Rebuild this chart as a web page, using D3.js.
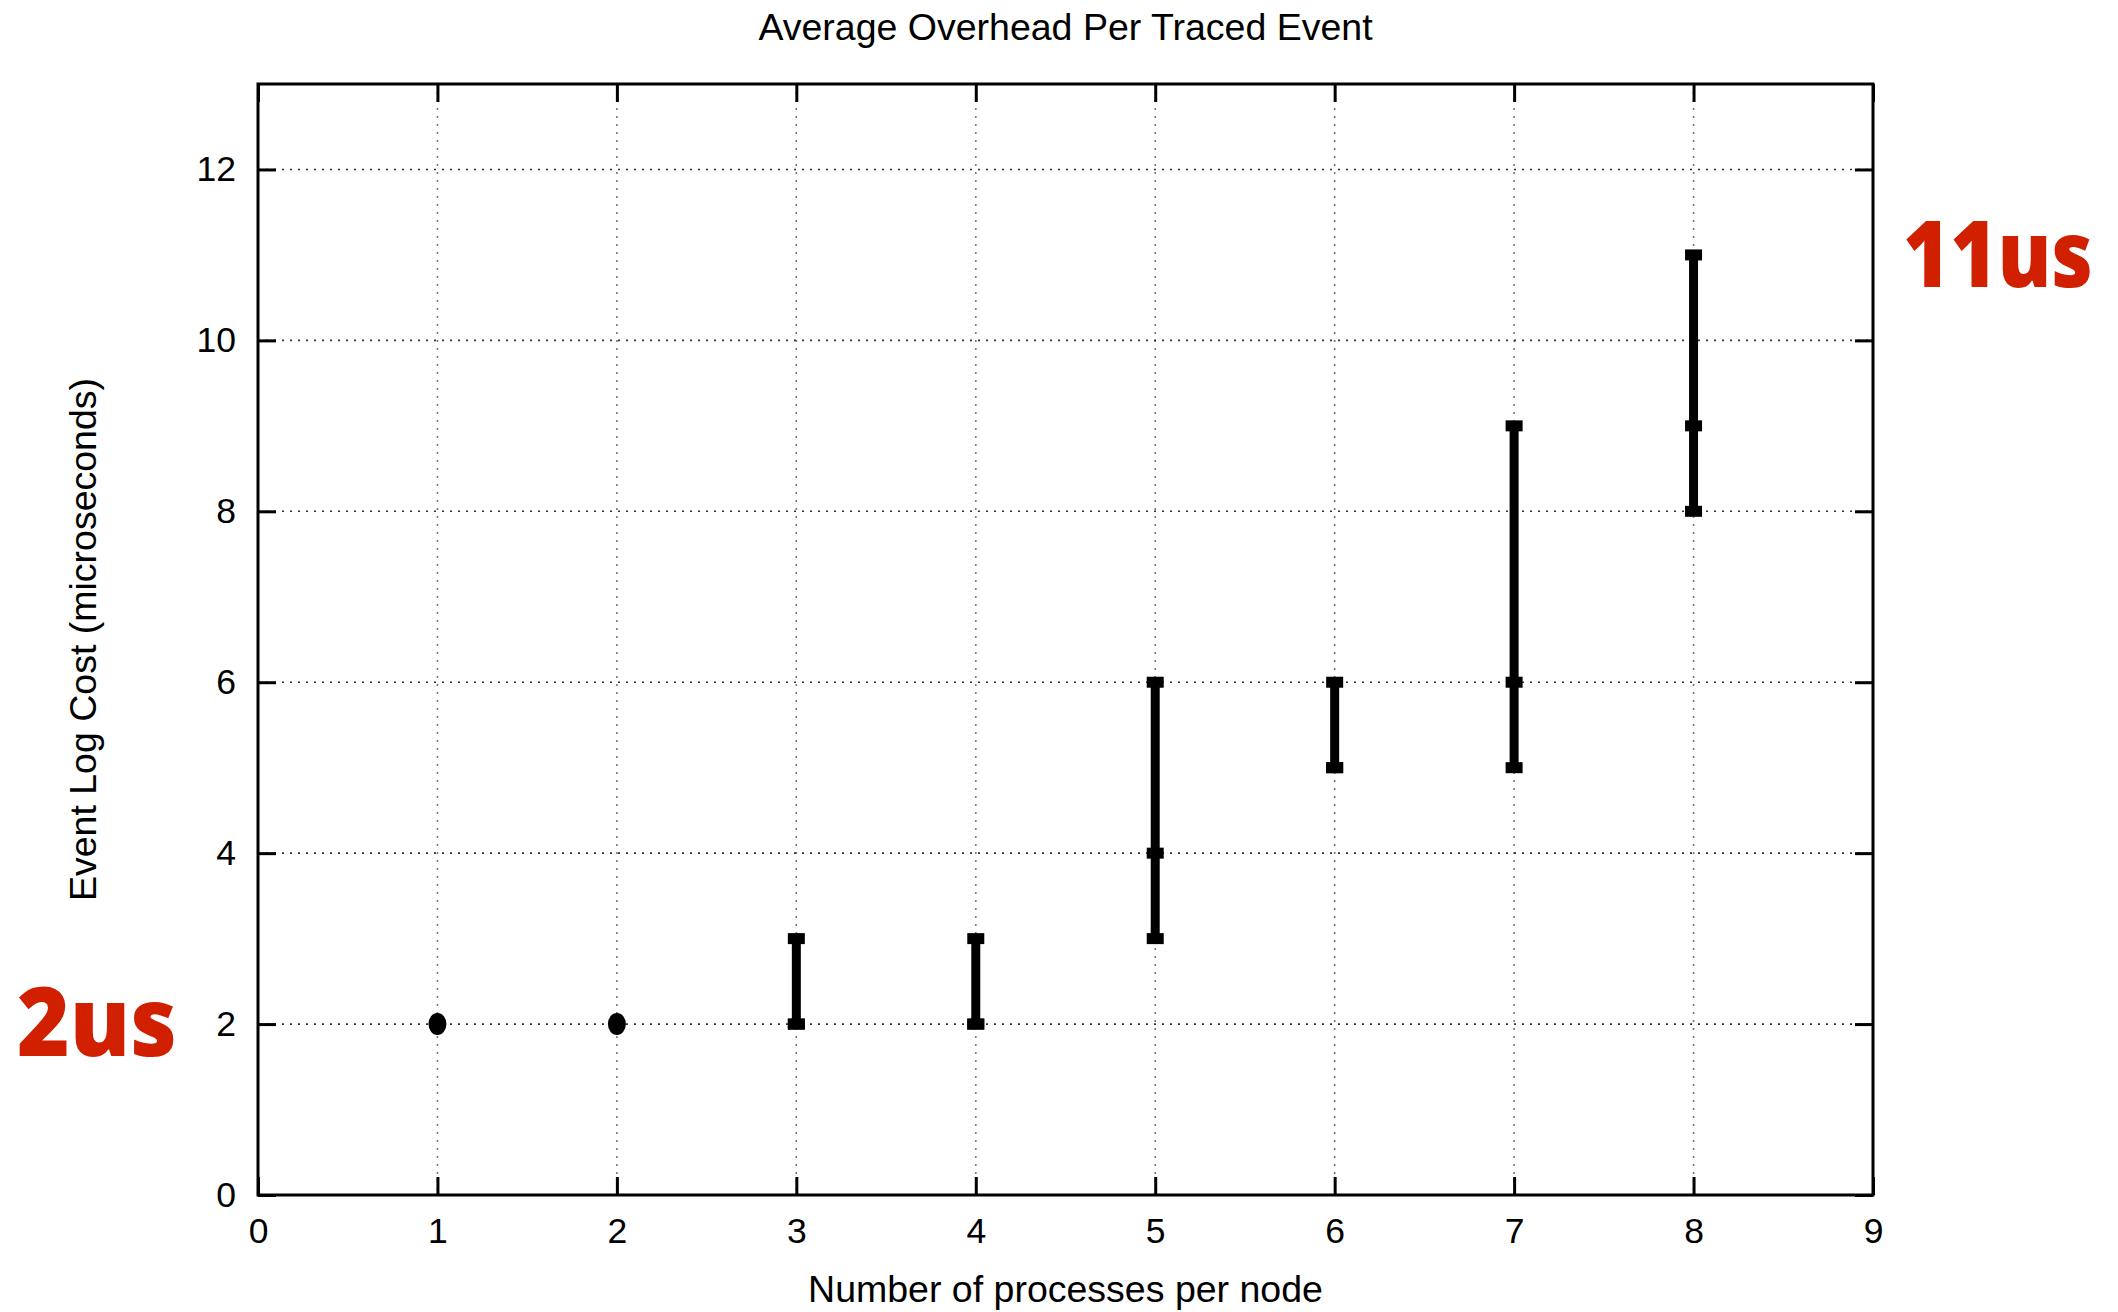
<!DOCTYPE html>
<html>
<head>
<meta charset="utf-8">
<script src="https://cdn.jsdelivr.net/npm/d3@7"></script>
<style>
  html, body { margin: 0; padding: 0; background: #fff; }
  svg { display: block; }
</style>
</head>
<body>
<svg id="chart" width="2118" height="1312"></svg>
<script>
// ---- data ----
const processes = [1, 2, 3, 4, 5, 6, 7, 8];
const meanCost  = [2, 2, 2, 2, 4, 5, 6, 9];
const lowCost   = [2, 2, 2, 2, 3, 5, 5, 8];
const highCost  = [2, 2, 3, 3, 6, 6, 9, 11];
const xTicks = [0, 1, 2, 3, 4, 5, 6, 7, 8, 9];
const yTicks = [0, 2, 4, 6, 8, 10, 12];
const titleText = "Average Overhead Per Traced Event";
const xLabel = "Number of processes per node";
const yLabel = "Event Log Cost (microseconds)";
const noteLow = "2us";
const noteHigh = "11us";

// ---- layout ----
const W = 2118, H = 1312;
const pLeft = 258, pRight = 1873, pTop = 84, pBottom = 1195;
const svg = d3.select("#chart");
const font = "'Liberation Sans', Arial, Helvetica, sans-serif";

const x = d3.scaleLinear().domain([0, 9]).range([pLeft, pRight]);
const y = d3.scaleLinear().domain([0, 13]).range([pBottom, pTop]);

// grid
const grid = svg.append("g");
grid.selectAll("line.vg").data(xTicks.filter(d => d > 0 && d < 9)).join("line")
  .attr("x1", d => x(d)).attr("x2", d => x(d))
  .attr("y1", pTop).attr("y2", pBottom)
  .attr("stroke", "#777").attr("stroke-width", 1.6).attr("stroke-dasharray", "2,6");
grid.selectAll("line.hg").data(yTicks.filter(d => d > 0)).join("line")
  .attr("x1", pLeft).attr("x2", pRight)
  .attr("y1", d => y(d)).attr("y2", d => y(d))
  .attr("stroke", "#333").attr("stroke-width", 1.6).attr("stroke-dasharray", "2,6");

// axes (ticks inward on all sides)
const tickLen = 18;
const axB = svg.append("g").attr("transform", `translate(0,${pBottom})`)
  .call(d3.axisBottom(x).tickValues(xTicks).tickSize(-tickLen).tickPadding(23).tickFormat(d3.format("d")));
const axT = svg.append("g").attr("transform", `translate(0,${pTop})`)
  .call(d3.axisTop(x).tickValues(xTicks).tickSize(-tickLen).tickFormat(""));
const axL = svg.append("g").attr("transform", `translate(${pLeft},0)`)
  .call(d3.axisLeft(y).tickValues(yTicks).tickSize(-tickLen).tickPadding(22).tickFormat(d3.format("d")));
const axR = svg.append("g").attr("transform", `translate(${pRight},0)`)
  .call(d3.axisRight(y).tickValues(yTicks).tickSize(-tickLen).tickFormat(""));
[axB, axT, axL, axR].forEach(a => {
  a.select(".domain").remove();
  a.selectAll(".tick line").attr("stroke", "#000").attr("stroke-width", 3);
  a.selectAll("text").attr("font-family", font).attr("font-size", 35.5).attr("fill", "#000");
});
axB.selectAll("text").attr("dy", "0.71em");

// frame
svg.append("rect").attr("x", pLeft).attr("y", pTop)
  .attr("width", pRight - pLeft).attr("height", pBottom - pTop)
  .attr("fill", "none").attr("stroke", "#000").attr("stroke-width", 3);

// error bars
const data = processes.map((p, i) => ({ p, m: meanCost[i], lo: lowCost[i], hi: highCost[i] }));
const bars = svg.append("g");
bars.selectAll("line.eb").data(data.filter(d => d.hi > d.lo)).join("line")
  .attr("x1", d => x(d.p)).attr("x2", d => x(d.p))
  .attr("y1", d => y(d.lo)).attr("y2", d => y(d.hi))
  .attr("stroke", "#000").attr("stroke-width", 9);
const capW = 17, capH = 11;
const caps = [];
data.filter(d => d.hi > d.lo).forEach(d => { caps.push({ p: d.p, v: d.lo }); caps.push({ p: d.p, v: d.hi }); });
bars.selectAll("rect.cap").data(caps).join("rect")
  .attr("x", d => x(d.p) - capW / 2).attr("y", d => y(d.v) - capH / 2)
  .attr("width", capW).attr("height", capH).attr("fill", "#000");
bars.selectAll("rect.mean").data(data.filter(d => d.hi > d.lo)).join("rect")
  .attr("x", d => x(d.p) - capW / 2).attr("y", d => y(d.m) - capH / 2)
  .attr("width", capW).attr("height", capH).attr("fill", "#000");
bars.selectAll("ellipse.pt").data(data.filter(d => d.hi === d.lo)).join("ellipse")
  .attr("cx", d => x(d.p)).attr("cy", d => y(d.m))
  .attr("rx", 9).attr("ry", 11).attr("fill", "#000");

// titles
svg.append("text").attr("x", (pLeft + pRight) / 2).attr("y", 40)
  .attr("text-anchor", "middle").attr("font-family", font).attr("font-size", 37.5)
  .text(titleText);
svg.append("text").attr("x", (pLeft + pRight) / 2).attr("y", 1302)
  .attr("text-anchor", "middle").attr("font-family", font).attr("font-size", 37.5)
  .text(xLabel);
svg.append("text").attr("transform", `translate(96,${(pTop + pBottom) / 2}) rotate(-90)`)
  .attr("text-anchor", "middle").attr("font-family", font).attr("font-size", 37.5)
  .text(yLabel);

// red annotations (horizontally squeezed to the reference width)
const red = "#D12000";
function note(txt, tx, ty, size, targetW) {
  const t = svg.append("text")
    .attr("font-family", "'Open Sans', sans-serif").attr("font-weight", 800)
    .attr("font-size", size).attr("fill", red).text(txt);
  const w = t.node().getComputedTextLength();
  const sx = targetW / w;
  t.attr("transform", `translate(${tx},${ty}) scale(${sx},1)`);
}
note(noteLow, 17, 1056, 96, 160);
note(noteHigh, 1903, 287, 92, 190);
</script>
</body>
</html>
